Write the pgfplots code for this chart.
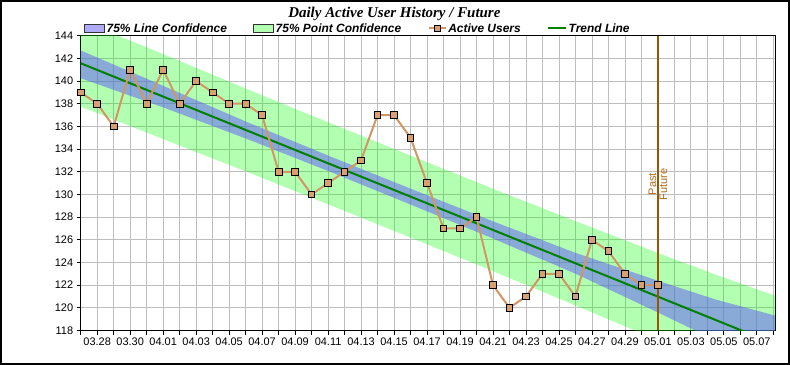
\documentclass[border=0pt]{standalone}
\usepackage{fontspec}
\setmainfont{Liberation Sans}
\newfontfamily\titlefont{Liberation Serif}
\usepackage{pgfplots}
\pgfplotsset{compat=1.18}
\definecolor{bandgreen}{RGB}{0,255,0}
\definecolor{bandblue}{RGB}{95,85,250}
\definecolor{userline}{RGB}{210,150,100}
\definecolor{usermark}{RGB}{215,160,110}
\definecolor{trend}{RGB}{0,128,0}
\definecolor{divider}{RGB}{155,85,0}
\definecolor{dividertext}{RGB}{175,105,30}
\definecolor{gridgray}{RGB}{190,190,190}
\begin{document}
\begin{tikzpicture}
\begin{axis}[
  name=ax,
  scale only axis,
  width=694.3bp, height=294.8bp,
  xmin=0, xmax=42.1, ymin=118, ymax=144,
  ytick={118,120,...,144},
  xtick={1,3,...,41},
  xticklabels={03.28,03.30,04.01,04.03,04.05,04.07,04.09,04.11,04.13,04.15,04.17,04.19,04.21,04.23,04.25,04.27,04.29,05.01,05.03,05.05,05.07},
  minor xtick={0,2,...,42},
  grid=both,
  major grid style={draw=gridgray, line width=0.8bp},
  minor grid style={draw=gridgray, line width=0.8bp},
  tick pos=left, tick align=outside,
  major tick length=4bp, minor tick length=4bp,
  tick style={black, line width=0.8bp},
  axis line style={line width=1bp, black},
  ticklabel style={font=\fontsize{11}{13}\selectfont, text=black},
  /pgf/number format/assume math mode=true,
  title={Daily Active User History / Future},
  title style={font=\titlefont\bfseries\itshape\fontsize{15}{18}\selectfont, at={(0.4518,1)}, anchor=base, yshift=12bp, inner sep=0pt},
  legend columns=4,
  legend cell align=left,
  legend style={draw=none, fill=none, at={(0,1)}, anchor=south west, xshift=3.5bp, yshift=0.5bp,
    font=\bfseries\itshape\fontsize{12}{14}\selectfont,
    /tikz/every even column/.append style={column sep=25bp},
    nodes={inner sep=1.5bp}, inner sep=0pt},
]
\addlegendimage{legend image code/.code={\draw[fill=bandblue, fill opacity=0.5, draw=black!80, line width=0.8bp] (0bp,-4bp) rectangle (20bp,4bp);}}
\addlegendentry{75\% Line Confidence}
\addlegendimage{legend image code/.code={\draw[fill=bandgreen, fill opacity=0.3, draw=black!80, line width=0.8bp] (0bp,-4bp) rectangle (20bp,4bp);}}
\addlegendentry{75\% Point Confidence}
\addlegendimage{userline, line width=2bp, mark=square*, mark size=3bp, mark options={fill=usermark, draw=black, line width=0.8bp}}
\addlegendentry{Active Users}
\addlegendimage{legend image code/.code={\draw[trend, line width=2bp] (6bp,0bp) -- (24bp,0bp);}}
\addlegendentry{Trend Line}

% point confidence band
\addplot[draw=none, fill=bandgreen, fill opacity=0.3, forget plot] coordinates {
(0,145.35) (5,142.38) (10,139.34) (15,136.37) (20,133.43) (25,130.50) (30,127.65) (35,124.84) (38.5,122.93) (42.1,121.07)
(42.1,112.57) (38.5,114.93) (35,117.14) (30,120.21) (25,123.24) (20,126.19) (15,129.13) (10,132.04) (5,134.88) (0,137.75)
} --cycle;
% line confidence band
\addplot[draw=none, fill=bandblue, fill opacity=0.5, forget plot] coordinates {
(0,142.7) (5,139.58) (10,136.44) (15,133.43) (20,130.51) (25,127.63) (30,124.85) (35,122.39) (38.5,120.73) (42.1,119.32)
(42.1,114.32) (38.5,117.13) (35,119.59) (30,123.01) (25,126.11) (20,129.11) (15,132.07) (10,134.94) (5,137.68) (0,140.25)
} --cycle;
% trend line
\addplot[trend, line width=2bp, forget plot] coordinates {(0,141.57) (42.1,116.81)};
% divider
\addplot[divider, line width=2bp, forget plot] coordinates {(35,118) (35,144)};
% active users
\addplot[userline, line width=2bp, mark=square*, mark size=3.3bp, mark options={fill=usermark, draw=black, line width=0.8bp}, forget plot] coordinates {
(0,139) (1,138) (2,136) (3,141) (4,138) (5,141) (6,138) (7,140) (8,139) (9,138)
(10,138) (11,137) (12,132) (13,132) (14,130) (15,131) (16,132) (17,133) (18,137) (19,137)
(20,135) (21,131) (22,127) (23,127) (24,128) (25,122) (26,120) (27,121) (28,123) (29,123)
(30,121) (31,126) (32,125) (33,123) (34,122) (35,122)
};
\node[rotate=90, anchor=south, text=dividertext, font=\fontsize{11}{13}\selectfont, inner sep=1.5bp] at (axis cs:35,130.9) {Past};
\node[rotate=90, anchor=north, text=dividertext, font=\fontsize{11}{13}\selectfont, inner sep=1.5bp] at (axis cs:35,130.9) {Future};
\end{axis}
\pgfresetboundingbox
\draw[line width=2bp] (ax.south west) ++(-79.7bp,-33.5bp) rectangle ++(788bp,363bp);
\end{tikzpicture}
\end{document}
